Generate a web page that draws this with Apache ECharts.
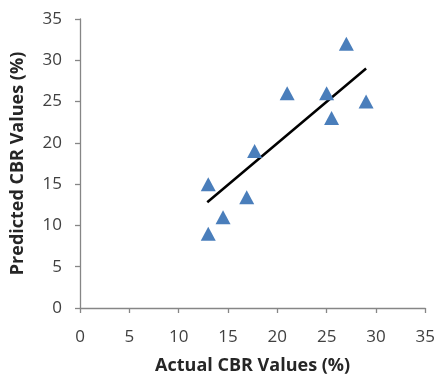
<!DOCTYPE html>
<html>
<head>
<meta charset="utf-8">
<script src="https://cdn.jsdelivr.net/npm/echarts@6/dist/echarts.min.js"></script>
<style>
  html, body { margin: 0; padding: 0; background: #fff; }
  #chart { width: 438px; height: 380px; }
</style>
</head>
<body>
<div id="chart"></div>
<script>
// actual vs predicted CBR values (%)
const actualCBR = [13, 13, 14.5, 16.9, 17.7, 21, 25, 25.5, 27, 29];
const predictedCBR = [15, 9, 11, 13.4, 19, 26, 26, 23, 32, 25];
// trend line end points
const trendX = [12.9, 29];
const trendY = [12.8, 29];

const points = actualCBR.map((x, i) => [x, predictedCBR[i]]);
const trend = trendX.map((x, i) => [x, trendY[i]]);

const chart = echarts.init(document.getElementById("chart"));
const axisColor = "#868686";
const labelFont = { color: "#404040", fontSize: 17, fontFamily: "Open Sans" };
const nameFont = { color: "#262626", fontSize: 18, fontWeight: "bold", fontFamily: "Open Sans" };

chart.setOption({
  animation: false,
  grid: { left: 80, right: 11, top: 19, bottom: 70 },
  xAxis: {
    type: "value",
    min: 0,
    max: 35,
    interval: 5,
    name: "Actual CBR Values (%)",
    nameLocation: "middle",
    nameGap: 49,
    nameTextStyle: nameFont,
    axisLine: { show: true, lineStyle: { color: axisColor, width: 1.3 } },
    axisTick: { show: true, length: 5, lineStyle: { color: axisColor, width: 1.3 } },
    axisLabel: { ...labelFont, margin: 21 },
    splitLine: { show: false },
  },
  yAxis: {
    type: "value",
    min: 0,
    max: 35,
    interval: 5,
    name: "Predicted CBR Values (%)",
    nameLocation: "middle",
    nameGap: 53,
    nameTextStyle: nameFont,
    axisLine: { show: true, lineStyle: { color: axisColor, width: 1.3 } },
    axisTick: { show: true, length: 5, lineStyle: { color: axisColor, width: 1.3 } },
    axisLabel: { ...labelFont, margin: 18 },
    splitLine: { show: false },
  },
  series: [
    {
      type: "line",
      data: trend,
      symbol: "none",
      lineStyle: { color: "#000", width: 2.5 },
      z: 2,
    },
    {
      type: "scatter",
      data: points,
      symbol: "triangle",
      symbolSize: [15, 14],
      itemStyle: { color: "#4A7EBB", opacity: 1 },
      z: 3,
    },
  ],
});
</script>
</body>
</html>
